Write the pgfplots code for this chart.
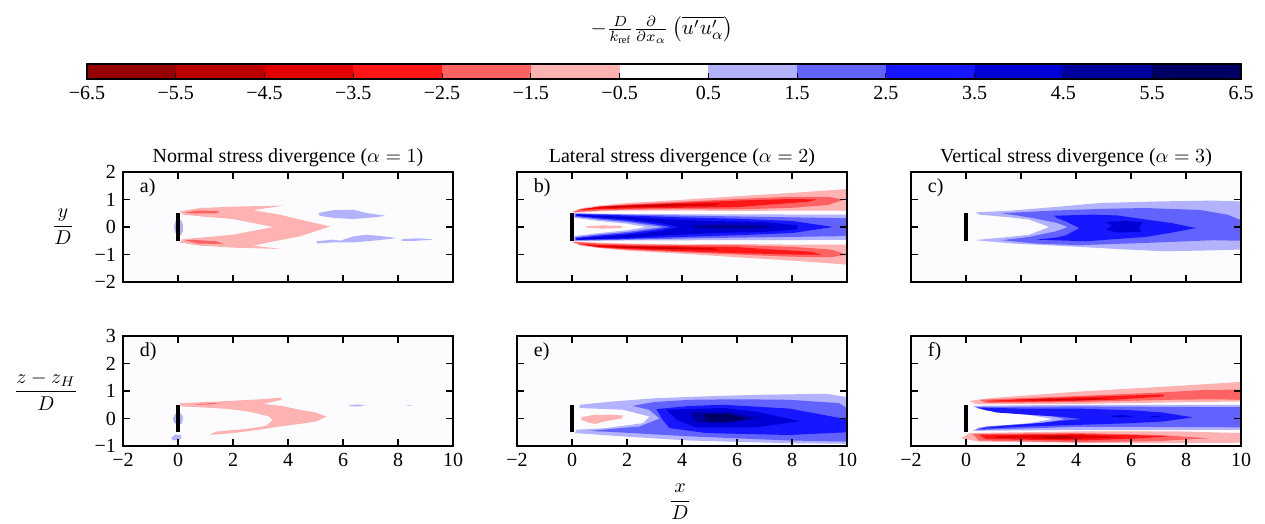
\documentclass[border=0pt]{standalone}
\usepackage{fontspec}
\setmainfont{Liberation Serif}
\usepackage{pgfplots}
\pgfplotsset{compat=1.18}

% contour level colours (seismic, red = negative)
\definecolor{r6}{RGB}{150,0,0}
\definecolor{r5}{RGB}{187,0,0}
\definecolor{r4}{RGB}{224,0,0}
\definecolor{r3}{RGB}{255,22,22}
\definecolor{r2}{RGB}{255,98,98}
\definecolor{r1}{RGB}{255,178,178}
\definecolor{w0}{RGB}{252,252,255}
\definecolor{b1}{RGB}{178,178,255}
\definecolor{b2}{RGB}{98,98,255}
\definecolor{b3}{RGB}{22,22,255}
\definecolor{b4}{RGB}{0,0,214}
\definecolor{b5}{RGB}{0,0,159}
\definecolor{b6}{RGB}{0,0,100}

\pgfplotsset{
  lv/.style={draw=none, fill=#1, mark=none},
  turbine/.style={black, line width=2pt, mark=none},
  panel/.style={scale only axis, width=165pt, height=55pt,
    xmin=-2, xmax=10, xtick={-2,0,...,10}, xticklabels={},
    yticklabels={}, tick align=inside, major tick length=3.5pt,
    axis on top, axis background/.style={fill=w0},
    axis line style={line width=0.8pt},
    every tick/.style={black, line width=0.6pt},
    title style={yshift=-7pt}},
  toprow/.style={ymin=-2, ymax=2, ytick={-2,...,2}},
  botrow/.style={ymin=-1, ymax=3, ytick={-1,...,3},
    xticklabels={−2,0,2,4,6,8,10}},
}

\begin{document}
\begin{tikzpicture}
\useasboundingbox (0,0) rectangle (632.5pt,-262pt);

% ---------------- colourbar ----------------
\begin{axis}[at={(43.5pt,-39.5pt)}, anchor=south west, scale only axis,
  width=577pt, height=7.5pt, xmin=-6.5, xmax=6.5, ymin=0, ymax=1,
  ytick=\empty, xtick={-6.5,-5.5,...,6.5}, xtick pos=left,
  tick align=inside, major tick length=3pt,
  xticklabels={−6.5,−5.5,−4.5,−3.5,−2.5,−1.5,−0.5,0.5,1.5,2.5,3.5,4.5,5.5,6.5},
  axis on top, axis line style={line width=0.8pt},
  every tick/.style={black, line width=0.5pt}]
\addplot[lv=r6] coordinates {(-6.5,0) (-5.5,0) (-5.5,1) (-6.5,1)} --cycle;
\addplot[lv=r5] coordinates {(-5.5,0) (-4.5,0) (-4.5,1) (-5.5,1)} --cycle;
\addplot[lv=r4] coordinates {(-4.5,0) (-3.5,0) (-3.5,1) (-4.5,1)} --cycle;
\addplot[lv=r3] coordinates {(-3.5,0) (-2.5,0) (-2.5,1) (-3.5,1)} --cycle;
\addplot[lv=r2] coordinates {(-2.5,0) (-1.5,0) (-1.5,1) (-2.5,1)} --cycle;
\addplot[lv=r1] coordinates {(-1.5,0) (-0.5,0) (-0.5,1) (-1.5,1)} --cycle;
\addplot[lv=w0] coordinates {(-0.5,0) (0.5,0) (0.5,1) (-0.5,1)} --cycle;
\addplot[lv=b1] coordinates {(0.5,0) (1.5,0) (1.5,1) (0.5,1)} --cycle;
\addplot[lv=b2] coordinates {(1.5,0) (2.5,0) (2.5,1) (1.5,1)} --cycle;
\addplot[lv=b3] coordinates {(2.5,0) (3.5,0) (3.5,1) (2.5,1)} --cycle;
\addplot[lv=b4] coordinates {(3.5,0) (4.5,0) (4.5,1) (3.5,1)} --cycle;
\addplot[lv=b5] coordinates {(4.5,0) (5.5,0) (5.5,1) (4.5,1)} --cycle;
\addplot[lv=b6] coordinates {(5.5,0) (6.5,0) (6.5,1) (5.5,1)} --cycle;
\end{axis}
\node[scale=1.05] at (331pt,-15pt) {$-\frac{D}{k_{\mathrm{ref}}}\frac{\partial}{\partial x_\alpha}\left(\overline{u'u'_\alpha}\right)$};

% ---------------- a) ----------------
\begin{axis}[panel, toprow, at={(61.5pt,-141pt)}, anchor=south west,
  yticklabels={−2,−1,0,1,2},
  title={Normal stress divergence ($\alpha=1$)}]
\addplot[lv=r1] coordinates {(0.06,0.57) (0.79,0.69) (2.0,0.74) (3.83,0.78) (2.73,0.61) (3.7,0.45) (4.43,0.27) (5.53,0.02) (4.43,-0.34) (3.5,-0.52) (2.73,-0.68) (3.76,-0.80) (2.0,-0.75) (0.79,-0.68) (0.06,-0.56) (0.18,-0.44) (1.0,-0.37) (2.0,-0.28) (3.46,0) (2.0,0.29) (1.0,0.37) (0.18,0.45)} --cycle;
\addplot[lv=r2] coordinates {(0.24,0.52) (0.7,0.6) (1.52,0.57) (1.4,0.5) (0.6,0.49)} --cycle;
\addplot[lv=r2] coordinates {(0.24,-0.48) (0.7,-0.6) (1.64,-0.62) (1.4,-0.52) (0.6,-0.47)} --cycle;
\addplot[lv=b1] coordinates {(-0.15,0) (-0.1,0.2) (0.1,0.27) (0.18,0.1) (0.18,-0.15) (0.1,-0.3) (-0.1,-0.2)} --cycle;
\addplot[lv=b1] coordinates {(5.1,0.51) (5.65,0.61) (6.38,0.63) (6.86,0.51) (7.53,0.41) (7.23,0.36) (6.38,0.29) (5.65,0.33) (5.16,0.41)} --cycle;
\addplot[lv=b1] coordinates {(5.04,-0.52) (5.65,-0.46) (5.89,-0.5) (6.38,-0.34) (6.86,-0.28) (7.47,-0.34) (7.95,-0.4) (7.47,-0.46) (6.86,-0.52) (6.38,-0.56) (5.65,-0.56) (5.04,-0.6)} --cycle;
\addplot[lv=b1] coordinates {(8.14,-0.44) (8.8,-0.41) (9.29,-0.46) (8.68,-0.5) (8.14,-0.5)} --cycle;
\addplot[turbine] coordinates {(0,-0.5) (0,0.5)};
\node[anchor=west] at (rel axis cs:0.03,0.86) {a)};
\end{axis}

% ---------------- b) ----------------
\begin{axis}[panel, toprow, at={(258.5pt,-141pt)}, anchor=south west,
  title={Lateral stress divergence ($\alpha=2$)}]
% upper red band
\addplot[lv=r1] coordinates {(0.0,0.55) (0.3,0.68) (1,0.78) (2,0.87) (4,0.99) (6,1.12) (8,1.24) (10,1.38) (10,0.59) (8,0.6) (6,0.58) (4,0.6) (2,0.6) (1,0.57) (0.1,0.52)} --cycle;
\addplot[lv=r2] coordinates {(0.05,0.56) (1,0.75) (2,0.82) (4,0.92) (6,1.02) (8,1.1) (9.3,1.1) (9.9,1.0) (9.3,0.8) (8,0.7) (6,0.64) (4,0.65) (2,0.63) (1,0.6) (0.1,0.54)} --cycle;
\addplot[lv=r3] coordinates {(0.2,0.62) (1,0.74) (2,0.8) (4,0.88) (6,0.96) (8,1.02) (8.9,1.0) (8.6,0.92) (7,0.8) (6,0.72) (4,0.7) (2,0.67) (1,0.65) (0.2,0.6)} --cycle;
\addplot[lv=r4] coordinates {(0.4,0.66) (1,0.72) (2,0.77) (3.5,0.83) (5.4,0.86) (5.2,0.78) (3.5,0.74) (2,0.71) (1,0.68)} --cycle;
\addplot[lv=r5] coordinates {(1.2,0.73) (2.2,0.77) (3.4,0.81) (4.4,0.81) (3.4,0.76) (2.2,0.74)} --cycle;
% lower red band
\addplot[lv=r1] coordinates {(0.0,-0.55) (0.3,-0.68) (1,-0.77) (2,-0.86) (4,-0.97) (6,-1.1) (8,-1.22) (10,-1.37) (10,-0.64) (8,-0.64) (6,-0.62) (4,-0.63) (2,-0.6) (1,-0.57) (0.1,-0.53)} --cycle;
\addplot[lv=r2] coordinates {(0.05,-0.56) (1,-0.75) (2,-0.82) (4,-0.92) (6,-1.0) (8,-1.08) (9.4,-1.1) (10,-1.0) (9.4,-0.82) (8,-0.72) (6,-0.66) (4,-0.66) (2,-0.63) (1,-0.6) (0.1,-0.54)} --cycle;
\addplot[lv=r3] coordinates {(0.2,-0.62) (1,-0.74) (2,-0.8) (4,-0.88) (6,-0.95) (8,-1.0) (9.06,-1.0) (8.7,-0.9) (7,-0.8) (6,-0.73) (4,-0.7) (2,-0.67) (1,-0.65) (0.2,-0.6)} --cycle;
\addplot[lv=r4] coordinates {(0.5,-0.66) (1,-0.72) (2,-0.76) (3.5,-0.8) (5.37,-0.84) (5.1,-0.76) (3.5,-0.73) (2,-0.7) (1,-0.68)} --cycle;
\addplot[lv=r5] coordinates {(1.3,-0.72) (2.2,-0.76) (3.4,-0.79) (4.3,-0.8) (3.4,-0.75) (2.2,-0.73)} --cycle;
% blue core
\addplot[lv=b1] coordinates {(0.05,0.5) (2,0.47) (5,0.46) (10,0.45) (10,-0.47) (5,-0.48) (2,-0.49) (0.05,-0.51) (0.1,-0.33) (1,-0.22) (2,-0.12) (2.7,0) (2,0.12) (1,0.22) (0.1,0.33)} --cycle;
\addplot[lv=r1] coordinates {(0.5,0.02) (1.1,0.06) (1.8,0.04) (1.8,-0.03) (1.1,-0.06) (0.5,-0.02)} --cycle;
\addplot[lv=b2] coordinates {(0.1,0.49) (2,0.45) (5,0.4) (8,0.35) (10,0.32) (10,-0.33) (8,-0.36) (5,-0.4) (2,-0.46) (0.1,-0.49) (0.12,-0.37) (1,-0.27) (2,-0.18) (3.3,0) (2,0.18) (1,0.27) (0.12,0.37)} --cycle;
\addplot[lv=b3] coordinates {(0.15,0.47) (2,0.42) (4,0.35) (6,0.3) (8,0.22) (9.5,0.0) (8,-0.22) (6,-0.3) (4,-0.36) (2,-0.43) (0.15,-0.47) (0.15,-0.4) (1,-0.31) (2,-0.23) (3.0,-0.1) (3.6,0) (3.0,0.1) (2,0.23) (1,0.31) (0.15,0.4)} --cycle;
\addplot[lv=b4] coordinates {(0.2,0.44) (1,0.41) (2,0.37) (3.5,0.28) (5,0.22) (7,0.18) (8.2,0.06) (8.2,-0.08) (7,-0.18) (5,-0.22) (3.5,-0.3) (2,-0.4) (1,-0.43) (0.2,-0.46) (0.2,-0.43) (1,-0.36) (2,-0.29) (3.2,-0.15) (3.9,0) (3.2,0.15) (2,0.28) (1,0.35) (0.2,0.41)} --cycle;
\addplot[lv=b5] coordinates {(4.4,0.06) (5.5,0.1) (7,0.06) (7.3,0) (7,-0.05) (5.5,-0.08) (4.4,-0.04)} --cycle;
\addplot[turbine] coordinates {(0,-0.5) (0,0.5)};
\node[anchor=west] at (rel axis cs:0.03,0.86) {b)};
\end{axis}

% ---------------- c) ----------------
\begin{axis}[panel, toprow, at={(455.5pt,-141pt)}, anchor=south west,
  title={Vertical stress divergence ($\alpha=3$)}]
\addplot[lv=b1] coordinates {(0.36,0.53) (1.7,0.6) (3.5,0.75) (4.85,0.87) (7,0.93) (8.97,0.96) (10,0.93) (10,-0.82) (8.5,-0.86) (7.15,-0.88) (5.5,-0.8) (4.1,-0.72) (1.7,-0.6) (0.36,-0.48) (0.48,-0.46) (1.5,-0.37) (2.3,-0.28) (3.03,0) (2.3,0.27) (1.5,0.36) (0.48,0.45)} --cycle;
\addplot[lv=b2] coordinates {(1.3,0.5) (3.2,0.6) (5,0.66) (6.5,0.69) (8.5,0.62) (9.5,0.45) (10,0.25) (10,-0.5) (9,-0.48) (6.5,-0.58) (4.1,-0.66) (2.5,-0.6) (1.3,-0.48) (2.3,-0.36) (3.3,-0.15) (3.7,0) (3.3,0.15) (2.3,0.35)} --cycle;
\addplot[lv=b3] coordinates {(3.2,0.41) (4.6,0.45) (5.5,0.42) (6.55,0.27) (7.5,0.14) (8.36,-0.04) (7.5,-0.2) (6.55,-0.36) (5.3,-0.45) (4.36,-0.52) (2.55,-0.46) (3.3,-0.38) (3.64,-0.3) (4.12,-0.04) (3.64,0.2) (3.3,0.33)} --cycle;
\addplot[lv=b4] coordinates {(5.1,0.18) (5.8,0.22) (6.4,0.18) (6.3,-0.05) (6.4,-0.18) (5.5,-0.2) (5.1,-0.1) (5.3,0.05)} --cycle;
\addplot[turbine] coordinates {(0,-0.5) (0,0.5)};
\node[anchor=west] at (rel axis cs:0.03,0.86) {c)};
\end{axis}

% ---------------- d) ----------------
\begin{axis}[panel, botrow, at={(61.5pt,-223pt)}, anchor=south west,
  yticklabels={−1,0,1,2,3}]
\addplot[lv=r1] coordinates {(0.06,0.56) (1.5,0.62) (3.0,0.7) (3.76,0.76) (3.76,0.68) (3.1,0.53) (3.8,0.45) (4.42,0.32) (5.0,0.22) (5.4,0.07) (5.03,-0.11) (4.4,-0.2) (3.7,-0.29) (3.0,-0.4) (2.0,-0.53) (1.15,-0.6) (1.4,-0.47) (2.5,-0.38) (3.2,-0.27) (3.45,-0.05) (3.3,0.08) (2.6,0.25) (1.8,0.35) (0.79,0.41) (0.12,0.44)} --cycle;
\addplot[lv=r2] coordinates {(0.6,0.51) (1.1,0.55) (1.6,0.57) (1.2,0.52) (0.7,0.5)} --cycle;
\addplot[lv=b1] coordinates {(-0.18,0) (-0.1,0.18) (0.1,0.19) (0.18,0.05) (0.15,-0.18) (0.0,-0.23) (-0.15,-0.15)} --cycle;
\addplot[lv=b1] coordinates {(-0.24,-0.7) (-0.1,-0.58) (0.1,-0.6) (0.12,-0.72) (0.0,-0.8) (-0.2,-0.78)} --cycle;
\addplot[lv=b1] coordinates {(6.2,0.47) (6.5,0.51) (6.8,0.49) (6.6,0.44) (6.3,0.44)} --cycle;
\addplot[lv=b1] coordinates {(8.3,0.47) (8.5,0.48) (8.5,0.46) (8.3,0.46)} --cycle;
\addplot[turbine] coordinates {(0,-0.5) (0,0.5)};
\node[anchor=west] at (rel axis cs:0.03,0.86) {d)};
\end{axis}

% ---------------- e) ----------------
\begin{axis}[panel, botrow, at={(258.5pt,-223pt)}, anchor=south west]
\addplot[lv=b1] coordinates {(0.28,0.5) (1.5,0.62) (3.07,0.74) (5,0.81) (6.7,0.86) (9.25,0.9) (10,0.78) (10,-0.92) (7.9,-0.9) (4.28,-0.8) (1.85,-0.65) (0.1,-0.53) (0.16,-0.41) (1.25,-0.35) (2.58,-0.17) (2.82,0.07) (1.85,0.32) (0.28,0.38)} --cycle;
\addplot[lv=r1] coordinates {(0.34,0.05) (0.8,0.13) (1.4,0.14) (1.85,0.11) (1.8,0.0) (1.2,-0.1) (0.85,-0.2) (0.6,-0.15) (0.34,-0.05)} --cycle;
\addplot[lv=b2] coordinates {(2.2,0.46) (3.0,0.6) (4.28,0.68) (6,0.7) (7.9,0.68) (9.7,0.56) (10,0.38) (10,-0.84) (7.9,-0.8) (4.28,-0.65) (1.85,-0.51) (0.64,-0.45) (2.46,-0.29) (3.19,0) (2.8,0.32)} --cycle;
\addplot[lv=b3] coordinates {(3.07,0.34) (4.2,0.45) (5.5,0.5) (7.9,0.36) (9.85,0) (10,-0.05) (10,-0.5) (7.9,-0.6) (4.9,-0.53) (3.55,-0.35) (3.3,-0.05)} --cycle;
\addplot[lv=b4] coordinates {(3.43,0.32) (5.5,0.38) (6.7,0.25) (8.3,-0.1) (6.7,-0.32) (4.5,-0.32) (3.8,-0.05)} --cycle;
\addplot[lv=b5] coordinates {(4.28,0.22) (5.73,0.22) (6.8,0.01) (5.73,-0.17) (4.52,-0.15)} --cycle;
\addplot[lv=b6] coordinates {(4.76,0.17) (5.73,0.16) (6.34,0) (5.73,-0.11) (4.88,-0.11)} --cycle;
\addplot[turbine] coordinates {(0,-0.5) (0,0.5)};
\node[anchor=west] at (rel axis cs:0.03,0.86) {e)};
\end{axis}

% ---------------- f) ----------------
\begin{axis}[panel, botrow, at={(455.5pt,-223pt)}, anchor=south west]
% upper red band
\addplot[lv=r1] coordinates {(0.12,0.64) (1,0.75) (4.12,0.98) (7.76,1.19) (10,1.33) (10,0.62) (7.76,0.59) (4.12,0.53) (0.36,0.52)} --cycle;
\addplot[lv=r2] coordinates {(0.48,0.68) (2,0.74) (4.12,0.82) (7.15,0.95) (8.73,1.04) (10,1.05) (10,0.68) (9,0.7) (7.4,0.68) (4.12,0.6) (0.73,0.57)} --cycle;
\addplot[lv=r3] coordinates {(0.73,0.64) (2.5,0.72) (4.12,0.78) (6,0.84) (7.15,0.88) (7.2,0.8) (5.33,0.68) (2.9,0.62) (1,0.61)} --cycle;
\addplot[lv=r4] coordinates {(1.7,0.68) (3.5,0.72) (4.73,0.74) (5.33,0.71) (4,0.66) (2.9,0.65)} --cycle;
% lower red band
\addplot[lv=r1] coordinates {(-0.18,-0.72) (0.48,-0.84) (4.12,-0.88) (7,-0.9) (10,-0.88) (10,-0.53) (7.76,-0.47) (4.12,-0.47) (0.12,-0.53)} --cycle;
\addplot[lv=r2] coordinates {(0.24,-0.56) (4.12,-0.53) (7,-0.6) (8.85,-0.72) (7,-0.82) (4.12,-0.87) (0.48,-0.8)} --cycle;
\addplot[lv=r3] coordinates {(0.48,-0.59) (4.12,-0.57) (6,-0.6) (7.4,-0.65) (6,-0.74) (4.12,-0.8) (0.73,-0.75)} --cycle;
\addplot[lv=r4] coordinates {(1.1,-0.63) (4.12,-0.6) (5.8,-0.68) (3.5,-0.75) (1.1,-0.7)} --cycle;
\addplot[lv=r5] coordinates {(2.67,-0.65) (3.6,-0.64) (4.12,-0.72) (2.9,-0.72)} --cycle;
% blue core
\addplot[lv=b1] coordinates {(0.24,0.46) (4.12,0.5) (10,0.5) (10,-0.41) (4.12,-0.41) (0.24,-0.45) (0.48,-0.32) (2.3,-0.17) (3.15,-0.02) (2.3,0.13) (0.48,0.34)} --cycle;
\addplot[lv=b2] coordinates {(0.36,0.42) (4.12,0.44) (10,0.41) (10,-0.32) (4.12,-0.3) (0.36,-0.42) (0.73,-0.29) (2.9,-0.15) (3.6,-0.02) (2.9,0.13) (0.73,0.29)} --cycle;
\addplot[lv=b3] coordinates {(0.36,0.4) (2,0.36) (4.12,0.36) (6,0.3) (7.15,0.22) (8.24,0.04) (7.15,-0.11) (6,-0.17) (4.12,-0.23) (2,-0.3) (0.36,-0.39) (1.1,-0.29) (2.5,-0.18) (3.5,-0.08) (4.2,-0.02) (3.5,0.06) (2.5,0.12) (1.1,0.22)} --cycle;
\addplot[lv=b4] coordinates {(5.3,0.1) (5.7,0.12) (6.1,0.08) (5.7,0.04) (5.3,0.05)} --cycle;
\addplot[lv=b4] coordinates {(6.7,0.08) (7.0,0.1) (7.1,0.06) (6.8,0.05)} --cycle;
\addplot[turbine] coordinates {(0,-0.5) (0,0.5)};
\node[anchor=west] at (rel axis cs:0.03,0.86) {f)};
\end{axis}

% axis labels
\node at (31.5pt,-113.5pt) {$\displaystyle\frac{y}{D}$};
\node at (23pt,-195.5pt) {$\displaystyle\frac{z-z_H}{D}$};
\node at (340pt,-251pt) {$\displaystyle\frac{x}{D}$};
\end{tikzpicture}
\end{document}
